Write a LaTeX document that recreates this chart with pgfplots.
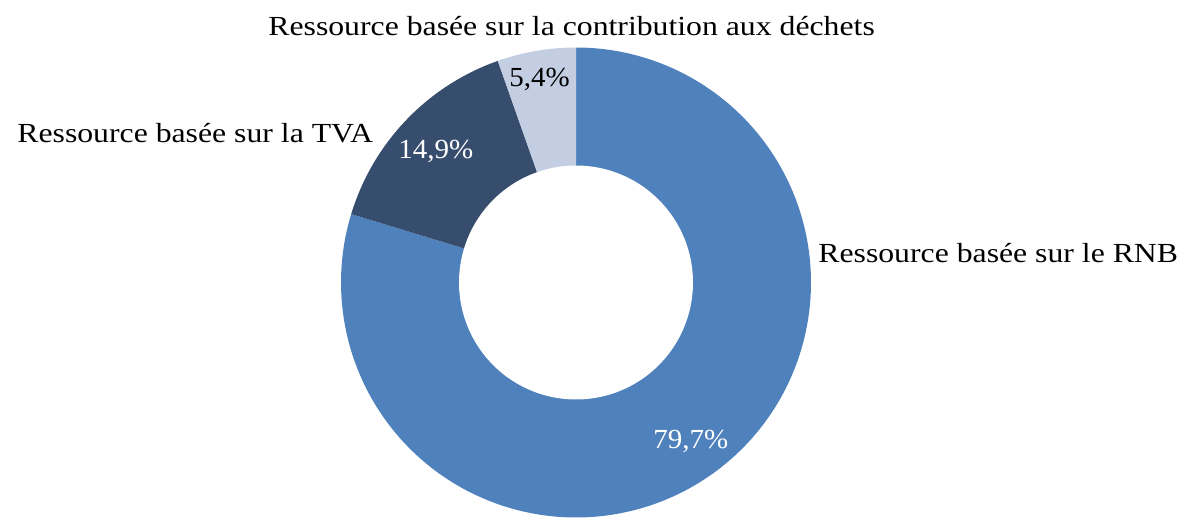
\documentclass[border=0pt]{standalone}
\usepackage{pgfplots}
\pgfplotsset{compat=1.18}
\usepackage{pgfplotstable}
\usepackage{fontspec}
\setmainfont{Liberation Serif}
\newfontfamily\lblfont[FakeStretch=1.15]{Liberation Serif}
\newfontfamily\pctfont[FakeStretch=1.05]{Liberation Serif}
\definecolor{cRNB}{RGB}{79,129,189}
\definecolor{cTVA}{RGB}{55,77,110}
\definecolor{cDEC}{RGB}{195,206,226}
\pgfplotstableread{
part value
RNB 79.7
TVA 14.9
Dechets 5.4
}\shares
\pgfplotstablegetelem{0}{value}\of\shares \let\vA\pgfplotsretval
\pgfplotstablegetelem{1}{value}\of\shares \let\vB\pgfplotsretval
\pgfplotstablegetelem{2}{value}\of\shares \let\vC\pgfplotsretval
\pgfmathsetmacro{\aO}{90}
\pgfmathsetmacro{\aA}{90-3.6*\vA}
\pgfmathsetmacro{\aB}{\aA-3.6*\vB}
\pgfmathsetmacro{\aC}{\aB-3.6*\vC}
\def\cx{576}
\def\cy{247.5}
\def\Ro{235}
\def\Ri{117}
\tikzset{lbl/.style={anchor=base west, inner sep=0pt, font=\lblfont\fontsize{13.8}{16}\selectfont},
  pct/.style={anchor=base west, inner sep=0pt, font=\pctfont\fontsize{13.8}{16}\selectfont}}
\begin{document}
\begin{tikzpicture}
\begin{axis}[
  scale only axis, width=596pt, height=265pt,
  xmin=0, xmax=1192, ymin=0, ymax=530,
  hide axis, clip=false,
]
\addplot[draw=none, forget plot] coordinates {(0,0) (1192,530)};
\addplot[fill=cRNB, draw=none, domain=\aA:\aO, samples=200] ({\cx+\Ro*cos(x)},{\cy+\Ro*sin(x)}) -- (axis cs:\cx,\cy) -- cycle;
\addplot[fill=cTVA, draw=none, domain=\aB:\aA, samples=60] ({\cx+\Ro*cos(x)},{\cy+\Ro*sin(x)}) -- (axis cs:\cx,\cy) -- cycle;
\addplot[fill=cDEC, draw=none, domain=\aC:\aB, samples=30] ({\cx+\Ro*cos(x)},{\cy+\Ro*sin(x)}) -- (axis cs:\cx,\cy) -- cycle;
\addplot[fill=white, draw=none, domain=0:360, samples=150] ({\cx+\Ri*cos(x)},{\cy+\Ri*sin(x)}) -- cycle;
\node[lbl] at (axis cs:268,494) {Ressource basée sur la contribution aux déchets};
\node[lbl] at (axis cs:818,267.3) {Ressource basée sur le RNB};
\node[lbl] at (axis cs:17,387) {Ressource basée sur la TVA};
\node[pct, text=white] at (axis cs:653,82) {79,7\%};
\node[pct, text=white] at (axis cs:398,371) {14,9\%};
\node[pct] at (axis cs:509,443) {5,4\%};
\end{axis}
\end{tikzpicture}
\end{document}
